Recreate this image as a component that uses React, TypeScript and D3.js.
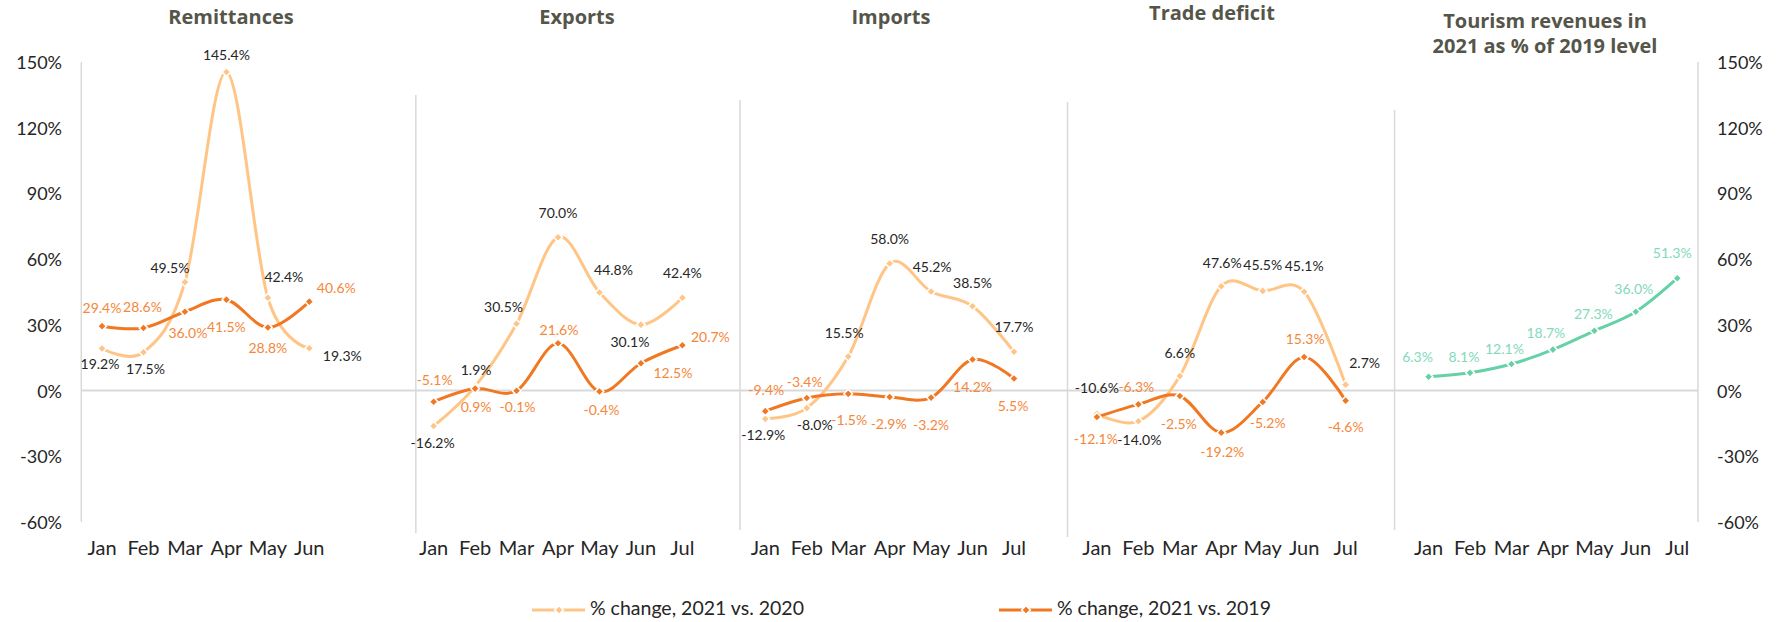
import React from "react";
import * as d3 from "d3";

// ---------- data ----------
const months6 = ["Jan", "Feb", "Mar", "Apr", "May", "Jun"];
const months7 = ["Jan", "Feb", "Mar", "Apr", "May", "Jun", "Jul"];

const panelTitles = ["Remittances", "Exports", "Imports", "Trade deficit", "Tourism revenues in|2021 as % of 2019 level"];

const seriesNames = ["% change, 2021 vs. 2020", "% change, 2021 vs. 2019"];

const remitA = [19.2, 17.5, 49.5, 145.4, 42.4, 19.3];
const remitB = [29.4, 28.6, 36.0, 41.5, 28.8, 40.6];
const exportsA = [-16.2, 1.9, 30.5, 70.0, 44.8, 30.1, 42.4];
const exportsB = [-5.1, 0.9, -0.1, 21.6, -0.4, 12.5, 20.7];
const importsA = [-12.9, -8.0, 15.5, 58.0, 45.2, 38.5, 17.7];
const importsB = [-9.4, -3.4, -1.5, -2.9, -3.2, 14.2, 5.5];
const deficitA = [-10.6, -14.0, 6.6, 47.6, 45.5, 45.1, 2.7];
const deficitB = [-12.1, -6.3, -2.5, -19.2, -5.2, 15.3, -4.6];
const tourism = [6.3, 8.1, 12.1, 18.7, 27.3, 36.0, 51.3];

const yTicks = [-60, -30, 0, 30, 60, 90, 120, 150];

// ---------- label placement (offsets from the marker) ----------
const remitALab = [[-2, 15], [2, 16], [-15, -15], [0, -18], [16, -21], [33, 7]];
const remitBLab = [[0, -19], [-1, -21], [3, 21], [0, 27], [0, 20], [27, -14]];
const exportsALab = [[-1, 16], [1, -17], [-13, -17], [0, -25], [14, -23], [-11, 17], [0, -25]];
const exportsBLab = [[1, -22], [1, 18], [1, 16], [1, -14], [2, 18], [32, 9], [28, -9]];
const importsALab = [[-2, 16], [8, 16], [-4, -24], [0, -25], [1, -25], [0, -24], [0, -25]];
const importsBLab = [[1, -22], [-2, -17], [1, 26], [-1, 27], [0, 27], [0, 27], [-1, 27]];
const deficitALab = [[0, -26], [1, 18], [0, -24], [1, -24], [0, -26], [0, -26], [19, -22]];
const deficitBLab = [[-1, 21], [-2, -18], [-1, 27], [1, 19], [5, 21], [1, -19], [0, 26]];
const tourismLab = [[-11, -20], [-6, -16], [-7, -16], [-7, -17], [-1, -17], [-2, -23], [-5, -26]];

// ---------- layout ----------
const W = 1787;
const H = 622;
const COL_A = "#FFC586";
const COL_B = "#F07822";
const COL_B_TXT = "#F5873A";
const COL_T = "#64D1A7";
const COL_T_TXT = "#82DABA";
const GRID = "#D9D9D9";
const TITLE = "#55554A";
const FONT = "Lato, 'Noto Sans', sans-serif";
const TITLE_FONT = "'Open Sans', Lato, sans-serif";

const panelStart = [0, 8, 16, 24, 32];
const titleX = [231, 577, 891, 1212, 1545];
const titleY = [24, 24, 24, 20, 28];
const sepPos = [7.57, 15.39, 23.29, 31.18];
const sepTop = [95, 100, 102, 110];
const sepBottom = [533, 530, 537, 530];
const LEGEND_Y = 607;

const x = d3.scaleLinear().domain([-0.5, 38.5]).range([81.3, 1698]);
const y = d3.scaleLinear().domain([-60, 150]).range([522, 62]);

const lineGen = d3
  .line<[number, number]>()
  .x((d) => d[0])
  .y((d) => d[1])
  .curve(d3.curveCardinal.tension(0));

const diamond = d3.symbol(d3.symbolSquare, 38)();

type Series = { values: number[]; lab: number[][]; color: string; txt: string; width: number };
type Panel = { months: string[]; series: Series[] };

const panels: Panel[] = [
  {
    months: months6,
    series: [
      { values: remitA, lab: remitALab, color: COL_A, txt: "#262626", width: 3 },
      { values: remitB, lab: remitBLab, color: COL_B, txt: COL_B_TXT, width: 3 },
    ],
  },
  {
    months: months7,
    series: [
      { values: exportsA, lab: exportsALab, color: COL_A, txt: "#262626", width: 3 },
      { values: exportsB, lab: exportsBLab, color: COL_B, txt: COL_B_TXT, width: 3 },
    ],
  },
  {
    months: months7,
    series: [
      { values: importsA, lab: importsALab, color: COL_A, txt: "#262626", width: 3 },
      { values: importsB, lab: importsBLab, color: COL_B, txt: COL_B_TXT, width: 3 },
    ],
  },
  {
    months: months7,
    series: [
      { values: deficitA, lab: deficitALab, color: COL_A, txt: "#262626", width: 3 },
      { values: deficitB, lab: deficitBLab, color: COL_B, txt: COL_B_TXT, width: 3 },
    ],
  },
  {
    months: months7,
    series: [{ values: tourism, lab: tourismLab, color: COL_T, txt: COL_T_TXT, width: 3 }],
  },
];

const fmt = (v: number) => `${v.toFixed(1)}%`;

export default function App() {
  const legendItems = [
    { name: seriesNames[0], color: COL_A, x0: 532 },
    { name: seriesNames[1], color: COL_B, x0: 999 },
  ];
  return (
    <svg
      width={W}
      height={H}
      style={{ position: "absolute", left: 0, top: 0, background: "#fff" }}
      fontFamily={FONT}
    >
      {/* grid / separators */}
      <line x1={x(-0.5)} x2={x(-0.5)} y1={y(150)} y2={y(-60)} stroke={GRID} strokeWidth={1.5} />
      <line x1={x(38.5)} x2={x(38.5)} y1={y(150)} y2={y(-60)} stroke={GRID} strokeWidth={1.5} />
      {sepPos.map((p, i) => (
        <line key={i} x1={x(p)} x2={x(p)} y1={sepTop[i]} y2={sepBottom[i]} stroke={GRID} strokeWidth={1.5} />
      ))}
      <line x1={x(-0.5)} x2={x(38.5)} y1={y(0)} y2={y(0)} stroke={GRID} strokeWidth={2} />

      {/* y axis labels */}
      {yTicks.map((t) => (
        <g key={t}>
          <text x={62} y={y(t)} textAnchor="end" dominantBaseline="central" fontSize={18} fill="#262626">
            {`${t}%`}
          </text>
          <text x={1717} y={y(t)} textAnchor="start" dominantBaseline="central" fontSize={18} fill="#262626">
            {`${t}%`}
          </text>
        </g>
      ))}

      {/* titles */}
      {panelTitles.map((t, i) => (
        <text
          key={i}
          x={titleX[i]}
          y={titleY[i]}
          textAnchor="middle"
          fontSize={20}
          fontWeight={700}
          fill={TITLE}
          fontFamily={TITLE_FONT}
        >
          {t.split("|").map((ln, j) => (
            <tspan key={j} x={titleX[i]} dy={j === 0 ? 0 : 25}>
              {ln}
            </tspan>
          ))}
        </text>
      ))}

      {panels.map((p, pi) => {
        const xs = p.months.map((_, i) => x(panelStart[pi] + i));
        return (
          <g key={pi}>
            {p.months.map((m, i) => (
              <text key={m} x={xs[i]} y={555} textAnchor="middle" fontSize={20} fill="#262626">
                {m}
              </text>
            ))}
            {p.series.map((s, si) => {
              const pts: [number, number][] = s.values.map((v, i) => [xs[i], y(v)]);
              return (
                <g key={si}>
                  <path d={lineGen(pts) || ""} fill="none" stroke={s.color} strokeWidth={s.width} />
                  {pts.map((pt, i) => (
                    <path
                      key={i}
                      d={diamond || ""}
                      transform={`translate(${pt[0]},${pt[1]}) rotate(45)`}
                      fill={s.color}
                      stroke="#fff"
                      strokeWidth={1.5}
                    />
                  ))}
                </g>
              );
            })}
            {p.series.map((s, si) =>
              s.values.map((v, i) => (
                <text
                  key={`${si}-${i}`}
                  x={xs[i] + s.lab[i][0]}
                  y={y(v) + s.lab[i][1]}
                  textAnchor="middle"
                  dominantBaseline="central"
                  fontSize={14}
                  fill={s.txt}
                >
                  {fmt(v)}
                </text>
              ))
            )}
          </g>
        );
      })}

      {/* legend */}
      {legendItems.map((l, i) => (
        <g key={i}>
          <line x1={l.x0} x2={l.x0 + 53} y1={LEGEND_Y + 3} y2={LEGEND_Y + 3} stroke={l.color} strokeWidth={3} />
          <path
            d={diamond || ""}
            transform={`translate(${l.x0 + 27},${LEGEND_Y + 3}) rotate(45)`}
            fill={l.color}
            stroke="#fff"
            strokeWidth={1.5}
          />
          <text x={l.x0 + 58} y={LEGEND_Y} dominantBaseline="central" fontSize={19.5} fill="#262626">
            {l.name}
          </text>
        </g>
      ))}
    </svg>
  );
}
